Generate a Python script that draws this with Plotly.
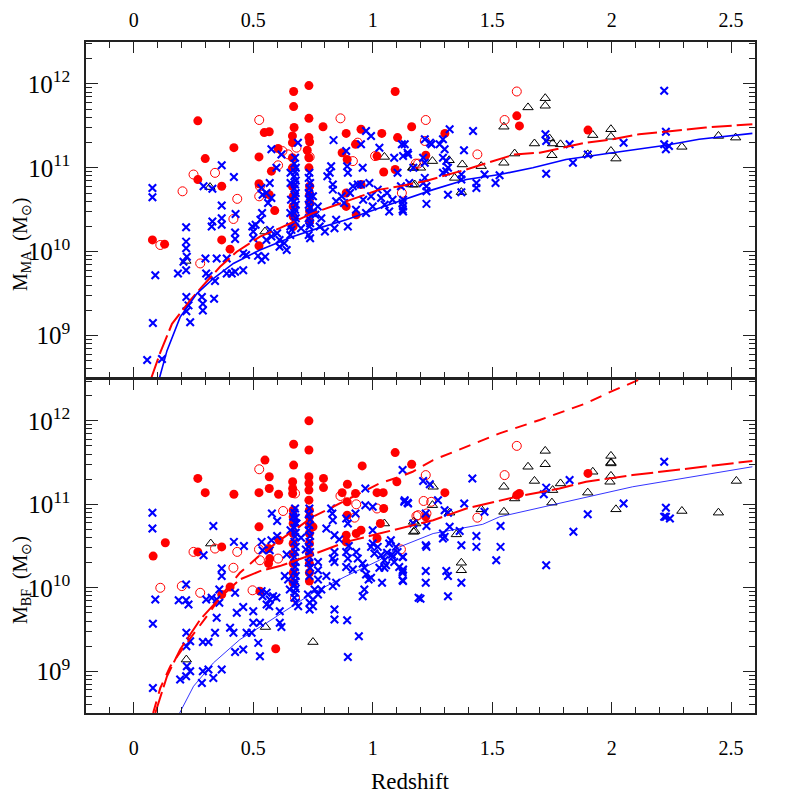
import plotly.graph_objects as go
from plotly.subplots import make_subplots

# ---------------- TOP PANEL (M_MA) : redshift, log10 mass ----------------
top_red_fill_z = [0.733,0.669,0.669,1.094,0.268,0.733,0.671,0.792,0.546,0.567,0.889,0.951,1.038,1.163,1.104,
                  0.733,0.736,0.664,0.664,0.419,0.524,0.299,0.604,0.726,0.872,0.928,0.893,0.733,0.733,0.664,
                  0.664,0.664,1.018,1.094,1.046,0.268,0.368,0.576,0.524,0.567,0.736,0.736,0.736,0.736,0.736,
                  0.667,0.667,0.667,0.667,0.889,0.889,0.951,0.931,0.590,0.368,0.403,0.524,0.078,0.129,
                  1.302,1.603,1.614,1.901,1.222]
top_red_fill_m = [11.98,11.91,11.73,11.91,11.56,11.59,11.48,11.49,11.42,11.43,11.41,11.46,11.41,11.49,11.36,
                  11.36,11.31,11.38,11.30,11.24,11.13,11.11,11.23,11.21,11.18,11.28,11.10,11.12,11.00,11.12,
                  11.00,10.78,11.14,10.98,10.95,10.86,10.78,10.96,10.81,10.68,10.78,10.68,10.58,10.48,10.36,
                  10.66,10.54,10.42,10.30,10.70,10.54,10.80,10.44,10.49,10.14,10.03,10.07,10.14,10.09,
                  11.41,11.62,11.50,11.45,11.15]

top_red_open_z = [0.525,0.865,0.681,0.622,0.646,0.736,0.250,0.340,0.204,0.433,0.604,0.9375,0.917,1.010,1.122,
                  1.180,0.417,0.528,0.525,0.111,0.278,1.222,1.603,1.552,1.438,1.218,1.190]
top_red_open_m = [11.57,11.59,11.24,11.20,11.16,11.13,10.92,10.94,10.72,10.63,11.03,11.30,11.08,11.14,10.70,
                  11.05,10.39,10.78,10.66,10.08,9.86,11.57,11.91,11.57,11.16,11.32,11.05]

top_tri_z = [1.722,1.722,1.650,1.549,1.677,1.740,1.753,1.786,1.750,1.594,1.549,1.454,1.375,1.343,1.320,1.250,
             1.170,1.200,1.176,1.921,1.997,1.997,1.997,2.018,2.294,2.447,2.519,1.900,1.371,1.049,1.167,1.167,
             0.319,0.218,0.549]
top_tri_m = [11.83,11.74,11.72,11.49,11.29,11.35,11.29,11.28,11.15,11.17,11.06,11.02,11.04,10.88,11.09,11.08,
             11.00,11.00,10.80,11.39,11.46,11.37,11.20,11.11,11.25,11.38,11.36,11.16,10.71,11.13,11.00,10.80,
             10.77,9.89,10.24]

top_cross_z = [0.078,0.078,0.090,0.080,0.056,0.118,0.185,0.219,0.219,0.219,0.222,0.219,0.208,0.220,0.229,0.220,
               0.236,0.300,0.303,0.313,0.285,0.289,0.289,0.336,0.340,0.347,0.326,0.329,0.368,0.368,0.368,0.368,
               0.329,0.292,0.419,0.426,0.424,0.424,0.389,0.389,0.410,0.424,0.458,0.458,0.470,0.496,0.500,0.500,
               0.510,0.530,0.537,0.520,0.535,0.550,0.570,0.576,0.555,0.610,0.610,0.597,0.576,0.534,0.555,0.569,
               0.576,0.562,0.539,0.618,
               0.675,0.672,0.678,0.675,0.672,0.678,0.675,0.672,0.678,0.675,0.672,0.678,0.675,0.672,0.678,0.675,
               0.660,0.655,0.655,0.655,0.658,0.656,0.656,0.687,
               0.735,0.732,0.738,0.735,0.732,0.738,0.735,0.732,0.738,0.735,0.732,0.738,0.735,0.732,0.738,
               0.750,0.750,0.770,0.778,0.800,0.840,0.820,0.810,0.833,0.833,0.826,0.836,0.847,0.847,0.889,0.893,
               0.896,0.896,0.917,0.930,0.9375,0.951,0.958,0.951,0.972,0.993,1.028,0.986,0.993,1.000,0.972,1.021,
               1.035,1.069,1.083,1.104,1.118,1.125,1.125,1.122,1.146,1.090,1.153,
               2.220,2.227,2.220,2.240,2.227,2.050,1.824,1.838,1.900,1.723,1.726,1.726,1.531,1.514,1.468,1.434,
               1.434,1.420,1.382,1.371,1.371,1.371,1.322,1.294,1.280,1.301,1.294,1.308,1.315,1.308,1.294,1.315,
               1.218,1.240,1.246,1.218,1.211,1.218,1.211,1.225,1.225,1.225,1.134,1.148,1.127,1.127,1.127,1.127,
               1.170,0.880,0.905,0.960,1.050,1.060,0.785,0.870,0.630,0.600,0.640,0.700,0.760]
top_cross_m = [10.76,10.65,9.72,9.15,8.71,8.72,9.74,10.29,10.12,10.04,9.94,9.78,9.88,9.46,9.36,9.29,
               9.16,9.92,9.74,9.71,9.46,9.38,9.30,9.44,9.65,9.92,10.30,10.36,10.55,10.40,10.32,11.03,
               10.75,10.78,10.89,10.45,10.23,10.15,9.92,9.74,9.74,9.76,9.78,9.98,9.96,10.30,10.24,10.16,
               10.32,10.38,10.46,9.95,9.90,9.94,10.26,10.18,10.14,10.14,10.06,11.00,11.22,10.76,10.70,10.82,
               10.64,10.58,10.68,11.16,
               11.12,11.05,11.00,10.95,10.90,10.85,10.80,10.75,10.70,10.66,10.60,10.56,10.50,10.46,10.40,10.36,
               10.26,10.20,10.30,10.46,10.62,10.82,10.94,11.30,
               10.94,10.88,10.82,10.76,10.70,10.66,10.62,10.56,10.52,10.46,10.40,10.34,10.30,10.20,10.16,
               10.66,10.46,10.54,10.30,10.24,10.28,10.94,10.90,10.80,10.74,11.02,11.33,10.60,10.38,11.20,11.02,
               10.94,10.30,10.78,10.50,10.80,10.80,11.00,11.28,11.44,11.38,11.24,10.82,10.66,10.54,10.46,10.74,
               10.64,10.48,10.62,10.94,10.78,10.58,10.50,11.28,11.18,11.12,10.82,
               11.92,11.43,11.28,11.26,11.22,11.30,11.28,11.06,11.16,11.40,11.32,10.93,10.91,10.82,10.92,10.82,
               10.76,11.44,11.21,10.92,10.86,10.71,11.46,11.34,11.28,11.22,11.12,11.08,11.00,10.96,10.94,10.68,
               11.34,11.30,11.28,11.06,11.12,10.88,10.82,10.78,10.72,10.57,11.28,11.16,11.14,10.62,10.54,10.48,
               11.00,10.58,10.70,10.62,10.56,10.70,10.40,10.66,10.10,10.22,10.02,10.28,10.44]

top_red_line_z = [0.074,0.111,0.160,0.236,0.285,0.361,0.431,0.528,0.611,0.667,0.750,0.889,1.028,1.113,1.218,
                  1.392,1.594,1.699,1.893,2.004,2.115,2.254,2.394,2.589]
top_red_line_m = [8.50,8.80,9.14,9.42,9.58,9.82,10.00,10.18,10.28,10.35,10.46,10.60,10.74,10.78,10.84,
                  10.98,11.16,11.18,11.30,11.34,11.40,11.44,11.48,11.52]
top_blue_line_z = [0.108,0.139,0.194,0.264,0.333,0.417,0.528,0.611,0.667,0.750,0.889,1.028,1.113,1.253,1.392,
                   1.531,1.670,1.809,2.004,2.227,2.366,2.589]
top_blue_line_m = [8.50,8.82,9.22,9.50,9.68,9.86,10.02,10.12,10.18,10.26,10.38,10.52,10.60,10.74,10.86,
                   10.92,11.00,11.10,11.18,11.27,11.34,11.41]

# ---------------- BOTTOM PANEL (M_BF) ----------------
bot_red_fill_z = [0.733,0.669,0.733,1.094,0.549,0.669,0.956,1.163,0.268,0.567,0.733,0.733,0.733,0.733,0.794,
                  0.794,0.665,0.665,0.665,0.299,0.419,0.524,0.567,0.606,0.894,0.928,0.872,0.893,1.018,1.044,
                  1.046,1.101,0.667,0.667,0.667,0.667,0.667,0.667,0.667,0.667,0.667,0.735,0.735,0.735,0.735,
                  0.735,0.735,0.735,0.735,0.735,0.750,0.524,0.608,0.564,0.569,0.564,0.893,0.889,0.889,0.931,
                  0.951,1.018,1.032,0.368,0.268,0.368,0.403,0.528,0.132,0.081,0.594,1.302,1.603,1.614,1.901,1.222]
bot_red_fill_m = [12.00,11.72,11.65,11.62,11.53,11.47,11.46,11.48,11.31,11.33,11.33,11.25,11.17,11.05,11.31,
                  11.20,11.27,11.19,11.13,11.14,11.12,11.14,11.19,11.12,11.24,11.13,11.14,11.03,11.14,11.14,
                  10.95,11.27,10.93,10.85,10.77,10.65,10.53,10.41,10.29,10.18,10.06,10.93,10.85,10.77,10.65,
                  10.53,10.41,10.29,10.18,10.08,10.73,10.73,10.57,10.47,10.35,10.29,10.87,10.63,10.55,10.65,
                  10.69,10.59,10.77,10.49,10.43,9.92,10.01,9.96,10.54,10.38,9.27,11.14,11.11,11.13,11.37,10.85]

bot_red_open_z = [0.525,0.675,0.625,0.865,0.931,0.924,1.018,1.183,1.118,0.250,0.340,0.433,0.524,0.528,0.604,
                  0.417,0.111,0.201,0.278,0.497,0.675,1.603,1.552,1.222,1.213,1.245,1.190,1.225,1.438]
bot_red_open_m = [11.42,11.13,10.92,11.10,11.00,10.84,10.95,10.86,10.46,10.43,10.47,10.43,10.46,10.33,10.35,
                  10.24,10.00,10.02,9.94,9.97,9.88,11.70,11.35,11.35,11.04,11.03,10.87,10.89,10.84]

bot_tri_z = [1.722,1.722,1.650,1.549,1.677,1.786,1.753,1.594,1.750,1.549,1.900,1.921,1.997,1.997,1.997,1.997,
             1.993,2.018,2.294,2.447,2.522,1.454,1.322,1.350,1.371,1.371,1.253,1.250,1.176,1.180,1.049,1.171,
             1.171,0.322,0.551,0.750,0.220]
bot_tri_m = [11.64,11.48,11.45,11.21,11.28,11.25,11.17,11.07,11.02,10.91,11.14,11.39,11.58,11.50,11.49,11.34,
             11.27,10.94,10.92,10.90,11.28,10.94,10.90,10.64,10.30,10.21,11.21,10.99,10.68,10.77,10.77,10.79,
             10.67,10.53,9.53,9.35,9.14]

bot_cross_z = [0.078,0.078,0.090,0.080,0.080,0.333,0.292,0.219,0.188,0.219,0.229,0.220,0.236,0.220,0.222,0.236,
               0.194,0.219,0.285,0.289,0.3125,0.333,0.368,0.289,0.3125,0.340,0.303,0.326,0.347,0.358,0.347,0.368,
               0.368,0.358,0.419,0.461,0.424,0.431,0.458,0.403,0.417,0.424,0.458,0.472,0.493,0.500,0.500,0.528,
               0.521,0.528,0.535,0.539,0.556,0.569,0.583,0.597,0.567,0.556,0.535,0.576,0.569,0.539,0.578,0.600,
               0.611,0.611,0.618,0.632,0.653,0.646,0.656,0.667,0.681,
               0.675,0.672,0.678,0.675,0.672,0.678,0.675,0.672,0.678,0.675,0.672,0.678,0.675,0.672,0.678,0.675,
               0.672,0.678,0.675,0.672,0.678,0.688,
               0.735,0.732,0.738,0.735,0.732,0.738,0.735,0.732,0.738,0.735,0.732,0.738,0.735,
               0.729,0.736,0.750,0.736,0.750,0.771,0.785,0.757,0.771,0.771,0.771,0.806,0.833,0.847,0.840,0.840,
               0.806,0.833,0.831,0.826,0.840,0.840,0.833,0.840,0.889,0.896,0.889,0.896,0.889,0.928,0.931,0.9375,
               0.958,0.965,0.917,0.972,0.993,0.983,0.965,0.958,0.942,0.893,0.896,0.969,0.969,1.000,1.000,0.993,
               1.007,1.021,1.035,1.049,1.056,1.028,1.049,1.039,1.097,1.104,1.083,1.090,1.111,1.125,1.132,1.146,
               1.125,1.125,1.125,1.069,1.076,1.000,1.192,
               2.220,2.227,2.220,2.244,2.227,2.050,1.900,1.840,1.824,1.726,1.716,1.726,1.535,1.535,1.517,1.468,
               1.434,1.434,1.417,1.383,1.371,1.371,1.364,1.322,1.315,1.301,1.294,1.294,1.301,1.308,1.315,1.315,
               1.273,1.239,1.211,1.222,1.225,1.222,1.225,1.222,1.222,1.200,1.134,1.148,1.127,1.127,1.125,1.127,
               1.170,0.600,0.640,0.700,0.720,0.860,0.900,1.060,1.080]
bot_cross_m = [10.90,10.71,9.86,9.57,8.80,10.74,10.39,10.04,9.85,9.85,9.80,9.46,9.36,9.30,9.06,9.00,
               8.90,8.94,8.86,9.00,9.02,8.92,9.02,9.35,9.35,9.46,9.86,9.88,9.86,9.82,9.64,10.23,
               10.14,9.98,10.55,10.50,9.94,9.70,9.77,9.52,9.46,9.23,9.26,9.46,9.46,9.72,9.58,9.58,
               9.34,9.18,9.96,9.90,9.94,9.86,9.90,9.88,9.78,9.80,10.55,10.57,10.45,10.45,10.89,10.80,
               9.72,9.58,9.53,10.14,9.98,10.10,10.69,10.85,10.77,
               10.95,10.90,10.84,10.78,10.72,10.66,10.61,10.55,10.49,10.43,10.37,10.31,10.25,10.19,10.14,10.08,
               10.04,9.99,9.94,9.88,9.82,9.78,
               10.95,10.88,10.82,10.75,10.69,10.62,10.55,10.49,10.43,10.37,10.30,10.24,10.14,
               9.92,9.82,9.78,9.74,9.86,9.92,9.98,9.98,10.10,10.31,10.21,10.14,10.02,10.06,9.74,9.62,
               10.71,10.81,10.89,10.95,10.63,10.43,10.35,10.31,10.83,10.77,10.43,10.35,10.25,10.89,10.43,10.35,
               10.29,10.24,10.22,10.16,10.12,10.10,9.98,9.90,9.42,9.61,9.17,11.19,10.99,10.69,10.53,10.49,
               10.41,10.49,10.39,10.33,10.27,10.24,10.24,10.06,10.49,10.43,10.37,10.31,10.25,11.41,11.03,11.02,
               10.37,10.20,10.09,10.53,10.57,10.97,9.88,
               11.51,10.96,10.85,10.83,10.85,11.01,10.88,10.67,11.29,10.27,11.12,11.20,10.74,10.49,10.33,10.91,
               10.62,10.49,11.31,11.01,10.51,10.06,10.68,10.73,10.90,10.93,10.65,10.59,10.61,10.20,10.14,9.90,
               11.05,11.24,11.28,10.89,10.74,10.51,10.49,10.20,10.06,9.87,11.05,11.01,10.37,10.22,10.18,10.08,
               10.77,10.62,10.40,10.60,10.46,10.58,10.50,10.42,10.40]

bot_red_upper_z = [0.081,0.111,0.153,0.222,0.306,0.375,0.444,0.528,0.611,0.750,0.889,1.028,1.113,1.167,1.253,
                   1.392,1.531,1.699,1.893,1.997,2.130]
bot_red_upper_m = [8.50,8.80,9.06,9.34,9.66,9.94,10.18,10.39,10.57,10.85,11.05,11.25,11.33,11.39,11.53,
                   11.69,11.85,12.01,12.21,12.35,12.51]
bot_red_lower_z = [0.090,0.139,0.194,0.278,0.361,0.444,0.528,0.611,0.750,0.889,1.028,1.113,1.253,1.392,1.601,
                   1.782,1.893,2.088,2.269,2.436,2.589]
bot_red_lower_m = [8.50,8.94,9.26,9.62,9.88,10.10,10.20,10.26,10.40,10.55,10.65,10.71,10.81,10.95,11.09,
                   11.19,11.27,11.35,11.41,11.47,11.52]
bot_blue_line_z = [0.192,0.250,0.333,0.444,0.556,0.667,0.750,0.889,1.028,1.113,1.253,1.460,1.531,1.809,2.088,
                   2.589]
bot_blue_line_m = [8.50,8.82,9.10,9.38,9.58,9.78,9.94,10.14,10.33,10.49,10.65,10.76,10.85,11.03,11.21,
                   11.45]

x_tick_vals = [0, 0.5, 1, 1.5, 2, 2.5]
x_tick_text = ["0", "0.5", "1", "1.5", "2", "2.5"]
y_titles = ["M<sub>MA</sub>\u00a0\u00a0(M<sub>⊙</sub>)", "M<sub>BF</sub>\u00a0\u00a0(M<sub>⊙</sub>)"]
x_title = "Redshift"


def p(v):
    return [10 ** a for a in v]


RED = "#ff0000"
BLUE = "#0000ff"
FONT = "Liberation Serif"
FRAME = "#222222"

fig = make_subplots(rows=2, cols=1, shared_xaxes=False, vertical_spacing=0)

panels = [
    dict(row=1, tri=(top_tri_z, top_tri_m), ro=(top_red_open_z, top_red_open_m),
         rf=(top_red_fill_z, top_red_fill_m), cr=(top_cross_z, top_cross_m)),
    dict(row=2, tri=(bot_tri_z, bot_tri_m), ro=(bot_red_open_z, bot_red_open_m),
         rf=(bot_red_fill_z, bot_red_fill_m), cr=(bot_cross_z, bot_cross_m)),
]

for pn in panels:
    r = pn["row"]
    fig.add_trace(go.Scatter(x=pn["tri"][0], y=p(pn["tri"][1]), mode="markers",
                             marker=dict(symbol="triangle-up-open", size=9, color="black",
                                         line=dict(width=1, color="black"))), row=r, col=1)
    fig.add_trace(go.Scatter(x=pn["ro"][0], y=p(pn["ro"][1]), mode="markers",
                             marker=dict(symbol="circle-open", size=9, color=RED,
                                         line=dict(width=1, color=RED))), row=r, col=1)
    fig.add_trace(go.Scatter(x=pn["rf"][0], y=p(pn["rf"][1]), mode="markers",
                             marker=dict(symbol="circle", size=9, color=RED,
                                         line=dict(width=0))), row=r, col=1)
    fig.add_trace(go.Scatter(x=pn["cr"][0], y=p(pn["cr"][1]), mode="markers",
                             marker=dict(symbol="x-thin", size=7.5, color=BLUE,
                                         line=dict(width=2.1, color=BLUE))), row=r, col=1)

fig.add_trace(go.Scatter(x=top_red_line_z, y=p(top_red_line_m), mode="lines",
                         line=dict(color=RED, width=2, dash="20px,5px")), row=1, col=1)
fig.add_trace(go.Scatter(x=top_blue_line_z, y=p(top_blue_line_m), mode="lines",
                         line=dict(color=BLUE, width=1.6)), row=1, col=1)
fig.add_trace(go.Scatter(x=bot_red_upper_z, y=p(bot_red_upper_m), mode="lines",
                         line=dict(color=RED, width=2, dash="12px,8px")), row=2, col=1)
fig.add_trace(go.Scatter(x=bot_red_lower_z, y=p(bot_red_lower_m), mode="lines",
                         line=dict(color=RED, width=2, dash="22px,5px")), row=2, col=1)
fig.add_trace(go.Scatter(x=bot_blue_line_z, y=p(bot_blue_line_m), mode="lines",
                         line=dict(color=BLUE, width=0.8)), row=2, col=1)

LW = 1.6
TICKFONT = dict(family=FONT, size=20, color="black")
axis_common = dict(showline=True, linecolor=FRAME, linewidth=LW, mirror="ticks",
                   ticks="inside", tickcolor=FRAME, tickwidth=1.3, showgrid=False,
                   zeroline=False, automargin=False, tickfont=TICKFONT)

for r in (1, 2):
    fig.update_xaxes(range=[-0.2, 2.6], tickvals=x_tick_vals, ticktext=x_tick_text, ticklen=11,
                     minor=dict(dtick=0.1, tick0=0, ticks="inside", ticklen=6, tickcolor=FRAME,
                                tickwidth=1.3, showgrid=False),
                     side="top" if r == 1 else "bottom", ticklabelstandoff=5 if r == 1 else 16,
                     showticklabels=True, row=r, col=1, **axis_common)
    fig.update_yaxes(type="log", range=[8.5, 12.5], dtick=1, exponentformat="power", ticklen=12,
                     minor=dict(dtick="D1", ticks="inside", ticklen=6, tickcolor=FRAME,
                                tickwidth=1.3, showgrid=False),
                     ticklabelstandoff=10, row=r, col=1, **axis_common)

# place the two panels so their shared edge lines coincide
PLOT_H = 789 - 34 - 84
PLOT_W = 789 - 78 - 42
shift = LW / PLOT_H
fig.update_yaxes(domain=[0.5, 1.0], row=1, col=1)
fig.update_yaxes(domain=[0.0, 0.5 - shift], row=2, col=1)

# axis titles placed as PGPLOT-like labels
title_x = (13 - 78) / PLOT_W
annotations = [
    dict(text=y_titles[0], xref="paper", yref="paper", x=title_x, y=1 - (237 - 34) / PLOT_H,
         textangle=-90, showarrow=False, xanchor="center", yanchor="middle",
         font=dict(family=FONT, size=20, color="black")),
    dict(text=y_titles[1], xref="paper", yref="paper", x=title_x, y=1 - (572 - 34) / PLOT_H,
         textangle=-90, showarrow=False, xanchor="center", yanchor="middle",
         font=dict(family=FONT, size=20, color="black")),
    dict(text=x_title, xref="paper", yref="paper", x=(402 - 78) / PLOT_W, y=1 - (773 - 34) / PLOT_H,
         showarrow=False, xanchor="center", yanchor="middle",
         font=dict(family=FONT, size=23, color="black")),
]

# the page adds an 8px body margin, so the figure is drawn 8px smaller
fig.update_layout(width=789, height=789, showlegend=False, annotations=annotations,
                  margin=dict(l=78, r=42, t=34, b=84, autoexpand=False),
                  paper_bgcolor="white", plot_bgcolor="white",
                  font=dict(family=FONT, color="black"))

fig.write_html("out.html")
